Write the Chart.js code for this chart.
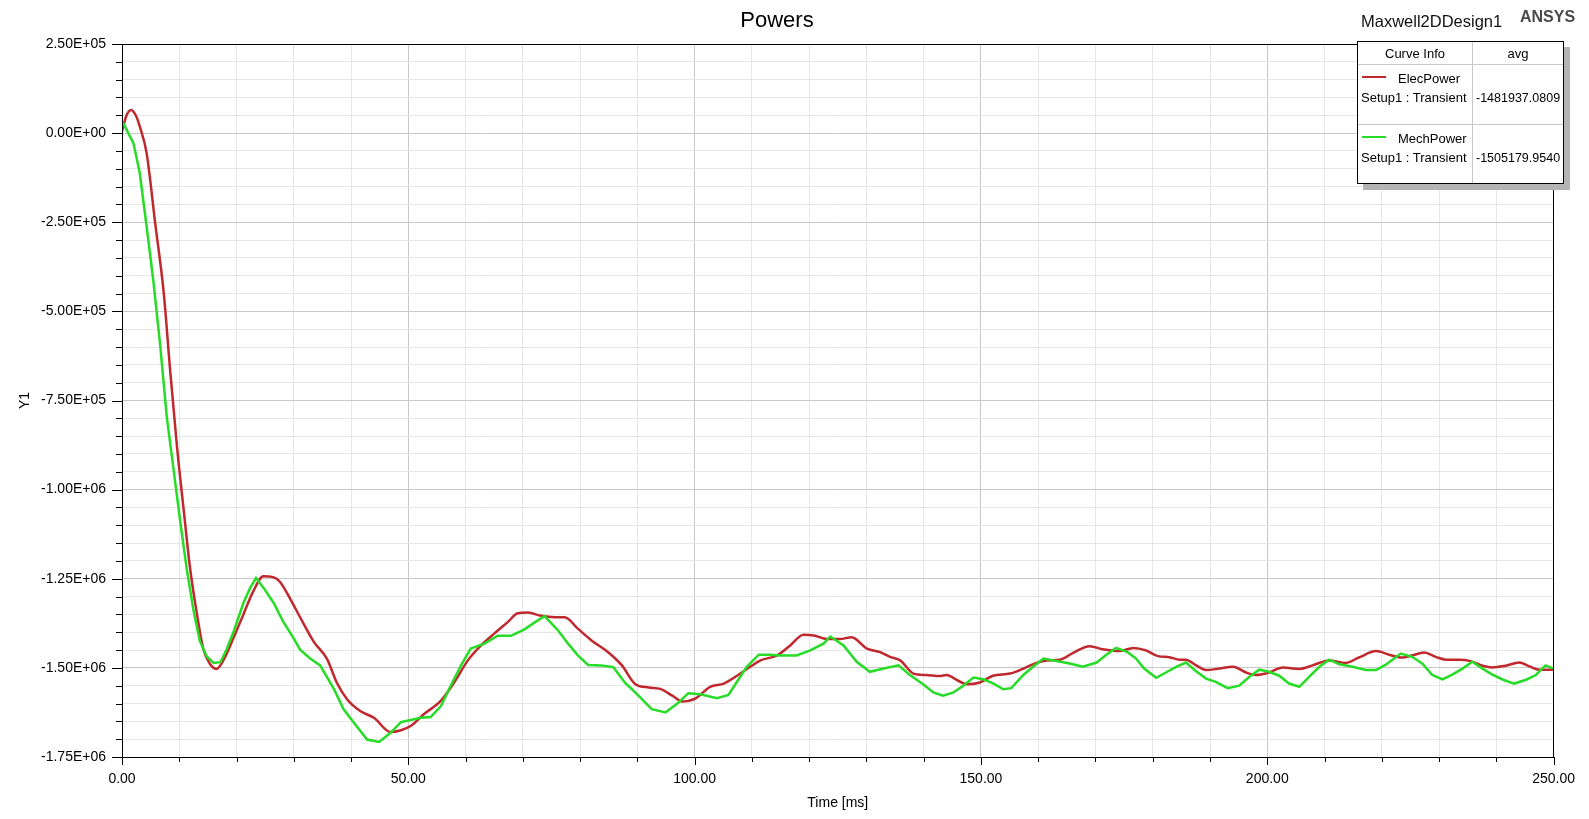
<!DOCTYPE html>
<html>
<head>
<meta charset="utf-8">
<title>Powers</title>
<script src="https://cdn.jsdelivr.net/npm/chart.js@4.4.0/dist/chart.umd.min.js"></script>
<style>
body { margin: 0; background: #fff; font-family: "Liberation Sans", Arial, sans-serif; }
#wrap { position: relative; width: 1589px; height: 819px; }
#design { position: absolute; left: 1361px; top: 11px; font-size: 16.5px; line-height: 20px; color: #111; white-space: nowrap; }
#ansys { position: absolute; left: 1520px; top: 7px; font-size: 16px; line-height: 20px; font-weight: bold; color: #4a4a4a; }
#legend { position: absolute; left: 1357px; top: 41px; width: 207px; height: 143px; box-sizing: border-box;
  border: 1px solid #000; background: #fff; box-shadow: 6px 6px 0 #b4b4b4; }
.cell { position: absolute; font-size: 13px; line-height: 16px; white-space: nowrap; color: #000; }
.val { font-size: 12.5px; }
.vline { position: absolute; top: 0; bottom: 0; width: 1px; background: #c8c8c8; }
.hline { position: absolute; left: 0; right: 0; height: 1px; background: #c8c8c8; }
.swatch { position: absolute; left: 4px; width: 24px; height: 2px; }
</style>
</head>
<body>
<div id="wrap">
  <canvas id="powerChart" width="1589" height="819"></canvas>
  <div id="design">Maxwell2DDesign1</div>
  <div id="ansys">ANSYS</div>
  <div id="legend"></div>
</div>
<script>
// time [ms] and power values
const elecTime = [
    0, 0.8, 1.6, 2.4, 3.1, 4.3, 5.8, 7.3, 8.4, 9.6,
    10.8, 11.9, 13.1, 14.2, 15.4, 16.5, 17.7, 19.5, 21.2, 22.9,
    24.7, 26.5, 27.6, 29.4, 31.1, 33.5, 35.8, 37.5, 39.3, 41.6,
    44.0, 46.9, 48.7, 50.4, 52.7, 55.7, 58.0, 60.4, 62.7, 65.0,
    67.4, 69.1, 70.9, 73.2, 75.6, 77.3, 79.6, 82.0, 84.9, 87.3,
    89.6, 92.0, 94.0, 96.1, 97.8, 100.1, 102.7, 105.1, 107.4, 109.7,
    111.5, 114.4, 116.7, 119.0, 120.8, 123.1, 125.4, 127.4, 130.1, 132.4,
    134.1, 135.9, 138.2, 140.5, 142.8, 144.0, 145.8, 147.5, 149.8, 152.1,
    155.1, 157.4, 159.7, 161.5, 163.8, 166.1, 169.0, 171.3, 174.2, 176.6,
    178.8, 180.9, 182.9, 184.7, 185.8, 187.6, 189.3, 191.6, 194.0, 196.3,
    198.0, 200.3, 202.7, 205.6, 207.9, 210.8, 213.7, 216.0, 219.0, 221.3,
    223.6, 225.3, 227.4, 229.4, 231.2, 233.5, 235.5, 237.6, 239.3, 241.6,
    244.0, 245.7, 247.5, 250.0
];
const elecPower = [
    5000, 50000, 65000, 50000, 19000, -56000, -253000, -450000, -664000, -879000,
    -1061000, -1222000, -1350000, -1447000, -1490000, -1503000, -1479000, -1415000, -1350000, -1286000,
    -1243000, -1246000, -1259000, -1307000, -1358000, -1427000, -1475000, -1541000, -1588000, -1621000,
    -1640000, -1680000, -1675000, -1663000, -1630000, -1592000, -1541000, -1479000, -1437000, -1404000,
    -1371000, -1347000, -1345000, -1354000, -1358000, -1358000, -1390000, -1423000, -1456000, -1493000,
    -1545000, -1555000, -1559000, -1578000, -1594000, -1586000, -1553000, -1544000, -1522000, -1497000,
    -1479000, -1465000, -1437000, -1407000, -1409000, -1419000, -1419000, -1414000, -1446000, -1456000,
    -1469000, -1479000, -1516000, -1520000, -1523000, -1520000, -1534000, -1546000, -1541000, -1522000,
    -1516000, -1502000, -1486000, -1479000, -1477000, -1458000, -1439000, -1448000, -1453000, -1444000,
    -1451000, -1467000, -1470000, -1477000, -1477000, -1493000, -1506000, -1502000, -1497000, -1513000,
    -1520000, -1513000, -1499000, -1503000, -1493000, -1479000, -1486000, -1471000, -1453000, -1463000,
    -1471000, -1465000, -1457000, -1469000, -1477000, -1477000, -1481000, -1494000, -1499000, -1494000,
    -1485000, -1495000, -1505000, -1505000
];
const mechTime = [
    0, 0.3, 1.1, 2.0, 3.1, 4.3, 5.5, 6.7, 7.8, 9.0,
    10.2, 11.3, 12.5, 13.6, 14.8, 16.0, 17.2, 18.3, 19.5, 21.2,
    22.4, 23.4, 24.7, 26.5, 28.2, 29.9, 31.1, 32.8, 34.6, 37.0,
    38.7, 40.5, 42.8, 44.9, 46.9, 48.7, 50.4, 52.2, 53.9, 55.7,
    57.4, 59.2, 60.9, 63.3, 65.6, 67.9, 70.3, 72.0, 73.8, 76.1,
    77.9, 79.6, 81.4, 83.7, 85.8, 87.8, 90.2, 92.5, 94.9, 97.2,
    98.9, 101.0, 103.9, 105.9, 107.4, 109.1, 111.2, 113.2, 114.9, 117.8,
    120.2, 122.5, 123.7, 126.0, 128.3, 130.6, 133.0, 135.6, 137.6, 139.9,
    141.7, 143.4, 145.2, 146.9, 148.7, 150.4, 152.2, 153.9, 155.3, 157.4,
    159.1, 160.9, 163.2, 165.5, 167.8, 170.2, 171.9, 173.6, 175.6, 177.1,
    178.5, 180.6, 182.3, 184.1, 185.8, 187.3, 189.3, 191.0, 193.1, 195.1,
    196.9, 198.6, 200.3, 202.1, 203.8, 205.6, 207.3, 209.1, 210.8, 212.6,
    214.9, 217.2, 219.0, 220.7, 223.3, 225.3, 227.1, 228.8, 230.6, 232.3,
    234.1, 235.8, 237.6, 239.3, 241.3, 243.1, 245.1, 246.9, 248.6, 250.0
];
const mechPower = [
    19000, 26000, 0, -28000, -112000, -262000, -418000, -600000, -793000, -943000,
    -1093000, -1222000, -1340000, -1425000, -1468000, -1486000, -1484000, -1447000, -1398000, -1318000,
    -1275000, -1248000, -1275000, -1318000, -1372000, -1415000, -1449000, -1473000, -1493000, -1559000,
    -1616000, -1654000, -1701000, -1708000, -1682000, -1652000, -1646000, -1640000, -1638000, -1607000,
    -1550000, -1493000, -1446000, -1432000, -1410000, -1410000, -1392000, -1373000, -1355000, -1394000,
    -1432000, -1465000, -1492000, -1493000, -1498000, -1541000, -1578000, -1616000, -1625000, -1597000,
    -1571000, -1574000, -1585000, -1576000, -1539000, -1497000, -1463000, -1463000, -1465000, -1465000,
    -1451000, -1432000, -1412000, -1437000, -1483000, -1511000, -1502000, -1493000, -1520000, -1546000,
    -1569000, -1578000, -1569000, -1550000, -1527000, -1532000, -1544000, -1560000, -1557000, -1520000,
    -1497000, -1474000, -1481000, -1488000, -1497000, -1485000, -1463000, -1444000, -1456000, -1474000,
    -1502000, -1528000, -1513000, -1497000, -1485000, -1506000, -1530000, -1539000, -1557000, -1550000,
    -1525000, -1505000, -1511000, -1522000, -1544000, -1553000, -1525000, -1497000, -1477000, -1490000,
    -1497000, -1506000, -1506000, -1491000, -1460000, -1469000, -1488000, -1520000, -1532000, -1519000,
    -1502000, -1483000, -1502000, -1519000, -1534000, -1544000, -1534000, -1520000, -1493000, -1502000
];

const seriesNames = ['ElecPower', 'MechPower'];
const seriesSetup = ['Setup1 : Transient', 'Setup1 : Transient'];
const seriesAvg = ['-1481937.0809', '-1505179.9540'];
const seriesColors = ['#c0282d', '#26dc26'];

const xMin = 0, xMax = 250, xStep = 10, xMajor = 50;
const yMin = -1750000, yMax = 250000, yStep = 50000, yMajor = 250000;

function sci(v) {
    if (v === 0) return '0.00E+00';
    const e = Math.floor(Math.log10(Math.abs(v)));
    const m = (v / Math.pow(10, e)).toFixed(2);
    return m + 'E' + (e < 0 ? '-' : '+') + String(Math.abs(e)).padStart(2, '0');
}

// legend table (html)
const legend = document.getElementById('legend');
function addCell(text, left, centerY, extra, cls) {
    const d = document.createElement('div');
    d.className = 'cell' + (cls ? ' ' + cls : '');
    d.textContent = text;
    d.style.left = left + 'px';
    d.style.top = (centerY - 8) + 'px';
    if (extra) Object.assign(d.style, extra);
    legend.appendChild(d);
}
legend.innerHTML = '<div class="vline" style="left:114px"></div>' +
    '<div class="hline" style="top:22px"></div>' +
    '<div class="hline" style="top:82px"></div>';
addCell('Curve Info', 0, 12, {width: '114px', textAlign: 'center'});
addCell('avg', 115, 12, {width: '90px', textAlign: 'center'});
seriesNames.forEach(function (name, i) {
    const top = 23 + i * 60;
    const sw = document.createElement('div');
    sw.className = 'swatch';
    sw.style.top = (top + 11) + 'px';
    sw.style.background = seriesColors[i];
    legend.appendChild(sw);
    addCell(name, 40, top + 14);
    addCell(seriesSetup[i], 3, top + 33);
    addCell(seriesAvg[i], 118, top + 33, null, 'val');
});

// box around the plot + major/minor tick marks
const framePlugin = {
    id: 'frame',
    afterDraw(chart) {
        const a = chart.chartArea, ctx = chart.ctx;
        const xs = chart.scales.x, ys = chart.scales.y;
        ctx.save();
        ctx.strokeStyle = '#000';
        ctx.lineWidth = 1;
        ctx.strokeRect(Math.round(a.left) + 0.5, Math.round(a.top) + 0.5,
            Math.round(a.right - a.left) - 1, Math.round(a.bottom - a.top));
        ctx.beginPath();
        xs.ticks.forEach(function (t) {
            const px = Math.round(xs.getPixelForValue(t.value)) + 0.5;
            const len = t.value % xMajor === 0 ? 8 : 5;
            ctx.moveTo(px, a.bottom);
            ctx.lineTo(px, a.bottom + len);
        });
        ys.ticks.forEach(function (t) {
            const py = Math.round(ys.getPixelForValue(t.value)) + 0.5;
            const len = Math.abs(t.value % yMajor) < 1 ? 10 : 6;
            ctx.moveTo(a.left - len, py);
            ctx.lineTo(a.left, py);
        });
        ctx.stroke();
        ctx.restore();
    }
};

const tickFont = {family: '"Liberation Sans", Arial, sans-serif', size: 14};

new Chart(document.getElementById('powerChart').getContext('2d'), {
    type: 'line',
    data: {
        datasets: [{
            label: seriesNames[0],
            data: elecTime.map(function (t, i) { return {x: t, y: elecPower[i]}; }),
            borderColor: seriesColors[0],
            borderWidth: 2.5,
            pointRadius: 0,
            cubicInterpolationMode: 'monotone',
            order: 2
        }, {
            label: seriesNames[1],
            data: mechTime.map(function (t, i) { return {x: t, y: mechPower[i]}; }),
            borderColor: seriesColors[1],
            borderWidth: 2.5,
            pointRadius: 0,
            tension: 0,
            order: 1
        }]
    },
    options: {
        responsive: false,
        animation: false,
        layout: {padding: {left: 0, right: 35, top: 8, bottom: 0}},
        plugins: {
            legend: {display: false},
            tooltip: {enabled: false},
            title: {
                display: true,
                text: 'Powers',
                color: '#000',
                font: {family: '"Liberation Sans", Arial, sans-serif', size: 22, weight: 'normal'},
                padding: {top: 0, bottom: 9.6}
            }
        },
        scales: {
            x: {
                type: 'linear',
                min: xMin,
                max: xMax,
                afterFit: function (s) { s.height = 62; },
                grid: {
                    color: function (c) { return c.tick.value % xMajor === 0 ? '#c8c8c8' : '#e6e6e6'; },
                    drawTicks: false
                },
                border: {color: '#000', width: 1},
                ticks: {
                    stepSize: xStep,
                    autoSkip: false,
                    maxRotation: 0,
                    padding: 14,
                    color: '#000',
                    font: tickFont,
                    callback: function (v) { return v % xMajor === 0 ? v.toFixed(2) : ''; }
                },
                title: {display: true, text: 'Time [ms]', color: '#000', font: tickFont, padding: {top: 0, bottom: 7.6}}
            },
            y: {
                min: yMin,
                max: yMax,
                afterFit: function (s) { s.width = 122; },
                grid: {
                    color: function (c) { return Math.abs(c.tick.value % yMajor) < 1 ? '#c8c8c8' : '#e6e6e6'; },
                    drawTicks: false
                },
                border: {color: '#000', width: 1},
                ticks: {
                    stepSize: yStep,
                    autoSkip: false,
                    padding: 16,
                    color: '#000',
                    font: tickFont,
                    callback: function (v) { return Math.abs(v % yMajor) < 1 ? sci(v) : ''; }
                },
                title: {display: true, text: 'Y1', color: '#000', font: tickFont, padding: {top: 16.6, bottom: 0}}
            }
        }
    },
    plugins: [framePlugin]
});
</script>
</body>
</html>
